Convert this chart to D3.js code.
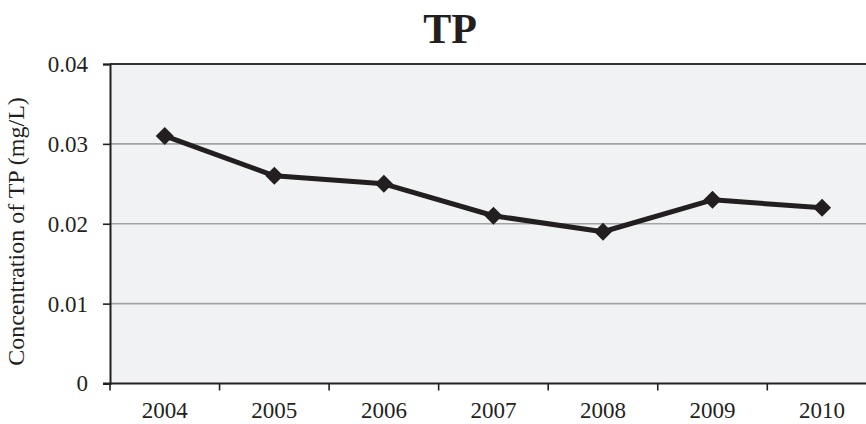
<!DOCTYPE html>
<html>
<head>
<meta charset="utf-8">
<script src="https://cdn.jsdelivr.net/npm/d3@7"></script>
<style>
  html, body { margin: 0; padding: 0; background: #fff; }
  svg { display: block; }
</style>
</head>
<body>
<svg id="chart" width="866" height="424"></svg>
<script>
// Annual mean total phosphorus
const years = ["2004", "2005", "2006", "2007", "2008", "2009", "2010"];
const tpValues = [0.031, 0.026, 0.025, 0.021, 0.019, 0.023, 0.022];
const yTicks = [0, 0.01, 0.02, 0.03, 0.04];
const yTickLabels = ["0", "0.01", "0.02", "0.03", "0.04"];

(function () {
  const svg = d3.select("#chart");
  const ink = "#231f20";
  const font = "'Liberation Serif', 'Times New Roman', serif";

  const plotLeft = 110, plotTop = 64, plotBottom = 383.5;
  const band = 109.55;
  const plotRight = plotLeft + band * years.length;

  const x = d3.scaleBand().domain(years).range([plotLeft, plotRight]);
  const y = d3.scaleLinear().domain([0, 0.04]).range([plotBottom, plotTop]);

  // plot area
  svg.append("rect")
    .attr("x", plotLeft).attr("y", plotTop)
    .attr("width", plotRight - plotLeft).attr("height", plotBottom - plotTop)
    .attr("fill", "#f1f2f4");

  // horizontal gridlines
  svg.append("g").selectAll("line")
    .data(yTicks.filter(d => d > 0 && d < 0.04))
    .join("line")
    .attr("x1", plotLeft).attr("x2", plotRight)
    .attr("y1", d => y(d)).attr("y2", d => y(d))
    .attr("stroke", "#a3a3a3").attr("stroke-width", 1.6);

  // top border
  svg.append("line")
    .attr("x1", plotLeft).attr("x2", plotRight)
    .attr("y1", plotTop).attr("y2", plotTop)
    .attr("stroke", "#333").attr("stroke-width", 2);

  // y axis
  const yAxis = d3.axisLeft(y)
    .tickValues(yTicks)
    .tickFormat((d, i) => yTickLabels[i])
    .tickSize(7).tickPadding(15);
  const gy = svg.append("g").attr("transform", `translate(${plotLeft},0)`).call(yAxis);
  gy.select(".domain").attr("stroke", ink).attr("stroke-width", 2);
  gy.selectAll(".tick line").attr("stroke", ink).attr("stroke-width", 1.6);
  gy.selectAll(".tick text").attr("fill", ink)
    .style("font-family", font).style("font-size", "23px");

  // x axis with ticks between categories
  const gx = svg.append("g").attr("transform", `translate(0,${plotBottom})`);
  gx.append("line")
    .attr("x1", plotLeft - 7).attr("x2", plotRight)
    .attr("stroke", ink).attr("stroke-width", 2);
  gx.selectAll(".xtick")
    .data(years)
    .join("line")
    .attr("class", "xtick")
    .attr("x1", d => x(d)).attr("x2", d => x(d))
    .attr("y1", 0).attr("y2", 7)
    .attr("stroke", ink).attr("stroke-width", 1.6);
  gx.selectAll(".xlabel")
    .data(years)
    .join("text")
    .attr("class", "xlabel")
    .attr("x", d => x(d) + x.bandwidth() / 2)
    .attr("y", 34.5)
    .attr("text-anchor", "middle")
    .attr("fill", ink)
    .style("font-family", font).style("font-size", "23px")
    .text(d => d);

  // series line
  const line = d3.line()
    .x((d, i) => x(years[i]) + x.bandwidth() / 2)
    .y(d => y(d));
  svg.append("path")
    .datum(tpValues)
    .attr("d", line)
    .attr("fill", "none")
    .attr("stroke", ink)
    .attr("stroke-width", 5)
    .attr("stroke-linejoin", "round");

  // diamond markers
  svg.append("g").selectAll("path")
    .data(tpValues)
    .join("path")
    .attr("transform", (d, i) => `translate(${x(years[i]) + x.bandwidth() / 2},${y(d)})`)
    .attr("d", "M0,-9L9,0L0,9L-9,0Z")
    .attr("fill", ink);

  // title
  svg.append("text")
    .attr("x", 450).attr("y", 43)
    .attr("text-anchor", "middle")
    .attr("fill", ink)
    .style("font-family", font).style("font-size", "42px").style("font-weight", "bold")
    .text("TP");

  // y axis title
  svg.append("text")
    .attr("transform", "translate(24,231.5) rotate(-90)")
    .attr("text-anchor", "middle")
    .attr("fill", ink)
    .style("font-family", font).style("font-size", "24px")
    .text("Concentration of TP (mg/L)");
})();
</script>
</body>
</html>
